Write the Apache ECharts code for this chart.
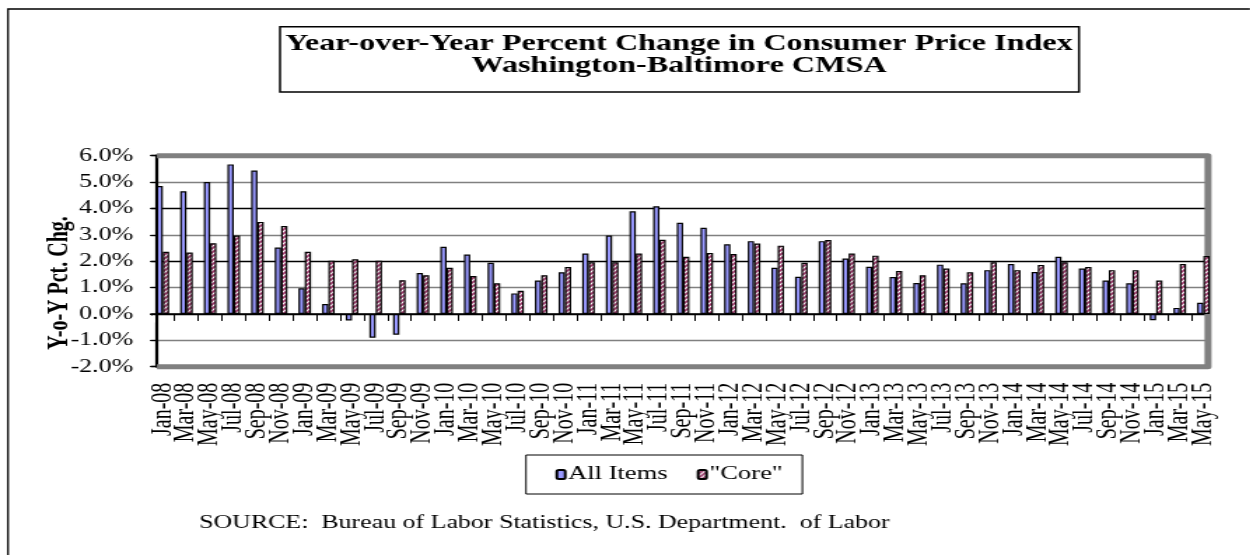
<!DOCTYPE html>
<html>
<head>
<meta charset="utf-8">
<script src="https://cdn.jsdelivr.net/npm/echarts@6/dist/echarts.min.js"></script>
<style>
  html, body { margin: 0; padding: 0; background: #fff; }
  /* the chart is laid out narrow and widened horizontally, giving the wide lettering */
  #chart { width: 892.857px; height: 555px; transform: scaleX(1.4); transform-origin: 0 0; }
</style>
</head>
<body>
<div id="chart"></div>
<script>
// Bi-monthly observations, Jan 2008 - May 2015
const categories = [
  'Jan-08','Mar-08','May-08','Jul-08','Sep-08','Nov-08',
  'Jan-09','Mar-09','May-09','Jul-09','Sep-09','Nov-09',
  'Jan-10','Mar-10','May-10','Jul-10','Sep-10','Nov-10',
  'Jan-11','Mar-11','May-11','Jul-11','Sep-11','Nov-11',
  'Jan-12','Mar-12','May-12','Jul-12','Sep-12','Nov-12',
  'Jan-13','Mar-13','May-13','Jul-13','Sep-13','Nov-13',
  'Jan-14','Mar-14','May-14','Jul-14','Sep-14','Nov-14',
  'Jan-15','Mar-15','May-15'
];

// Year-over-year % change, all items
const allItems = [
  4.85, 4.65, 5.0, 5.67, 5.44, 2.52,
  0.97, 0.38, -0.25, -0.9, -0.79, 1.55,
  2.55, 2.25, 1.94, 0.78, 1.27, 1.58,
  2.29, 2.97, 3.89, 4.08, 3.46, 3.27,
  2.64, 2.76, 1.75, 1.41, 2.76, 2.1,
  1.79, 1.4, 1.17, 1.87, 1.16, 1.66,
  1.89, 1.59, 2.17, 1.72, 1.27, 1.16,
  -0.24, 0.23, 0.42
];

// Year-over-year % change, "core" (less food and energy)
const core = [
  2.36, 2.33, 2.68, 2.97, 3.49, 3.33,
  2.36, 2.02, 2.07, 2.02, 1.28, 1.47,
  1.75, 1.44, 1.16, 0.88, 1.47, 1.78,
  1.96, 1.96, 2.29, 2.81, 2.17, 2.31,
  2.27, 2.67, 2.59, 1.94, 2.8, 2.29,
  2.21, 1.63, 1.47, 1.72, 1.58, 1.96,
  1.66, 1.86, 1.96, 1.78, 1.66, 1.66,
  1.27, 1.89, 2.2
];

const seriesNames = ['All Items', '"Core"'];
const titleLines = ['Year-over-Year Percent Change in Consumer Price Index', 'Washington-Baltimore CMSA'];
const yAxisTitle = 'Y-o-Y Pct. Chg.';
const sourceNote = 'SOURCE:  Bureau of Labor Statistics, U.S. Department.  of Labor';
const yMin = -2, yMax = 6, yStep = 1;

// horizontal widening factor and page-pixel -> chart-unit helper
const S = 1.4;
const px = v => v / S;
const SERIF = '"Liberation Serif", "Times New Roman", serif';

// diagonal hatch fill for the core bars
function hatchPattern() {
  const c = document.createElement('canvas');
  c.width = 4; c.height = 4;
  const g = c.getContext('2d');
  g.fillStyle = '#ffffff';
  g.fillRect(0, 0, 4, 4);
  g.strokeStyle = '#993366';
  g.lineWidth = 1.6;
  g.beginPath();
  g.moveTo(0, 4); g.lineTo(4, 0);
  g.moveTo(-1, 1); g.lineTo(1, -1);
  g.moveTo(3, 5); g.lineTo(5, 3);
  g.stroke();
  return c;
}

// plot frame edges (page pixels)
const plotTop = 155.7, plotBottom = 366.7, plotLeft = 157, plotRight = 1208;

const chart = echarts.init(document.getElementById('chart'));

chart.setOption({
  animation: false,
  backgroundColor: '#ffffff',
  title: {
    text: titleLines.join('\n'),
    left: px(679),
    top: 33,
    textAlign: 'center',
    padding: 0,
    textStyle: {
      fontFamily: SERIF,
      fontWeight: 'bold',
      fontSize: 23,
      lineHeight: 22,
      color: '#000'
    }
  },
  legend: {
    data: seriesNames,
    left: px(526),
    top: 455,
    padding: [10, 14, 10, 21],
    itemGap: px(29),
    itemWidth: 6,
    itemHeight: 9,
    borderColor: '#000',
    borderWidth: 1,
    textStyle: { fontFamily: SERIF, fontSize: 19, color: '#000', padding: [0, 0, 0, -3] }
  },
  grid: {
    left: px(151),
    right: px(35),
    top: plotTop,
    bottom: 555 - plotBottom,
    containLabel: false,
    outerBoundsMode: 'none'
  },
  xAxis: [
    {
      type: 'category',
      data: categories,
      position: 'bottom',
      axisLine: { show: false, onZero: false },
      axisTick: { show: false },
      splitLine: { show: false },
      axisLabel: {
        interval: 0,
        rotate: 90,
        margin: 16,
        fontFamily: SERIF,
        fontSize: 20,
        color: '#000'
      }
    },
    {
      type: 'category',
      data: categories,
      position: 'bottom',
      axisLine: { show: true, onZero: true, lineStyle: { color: '#000', width: 1.5 } },
      axisTick: { show: true, interval: 0, length: 7, inside: false, lineStyle: { color: '#000', width: 1 } },
      axisLabel: { show: false },
      splitLine: { show: false }
    }
  ],
  yAxis: {
    type: 'value',
    position: 'left',
    offset: px(-6),
    min: yMin,
    max: yMax,
    interval: yStep,
    axisLine: { show: true, lineStyle: { color: '#000', width: 2.2 } },
    axisTick: { show: true, length: px(7), lineStyle: { color: '#000', width: 1.2 } },
    axisLabel: {
      margin: 17,
      fontFamily: SERIF,
      fontSize: 18.5,
      color: '#000',
      formatter: v => v.toFixed(1) + '%'
    },
    splitLine: { show: true, lineStyle: { color: ['#000000', '#808080'], width: 1.3 } }
  },
  series: [
    {
      name: seriesNames[0],
      type: 'bar',
      xAxisIndex: 0,
      data: allItems,
      barWidth: px(6.3),
      barGap: '0%',
      itemStyle: { color: '#9999ff', borderColor: '#000', borderWidth: 1.2 }
    },
    {
      name: seriesNames[1],
      type: 'bar',
      xAxisIndex: 0,
      data: core,
      barWidth: px(6.3),
      barGap: '0%',
      itemStyle: {
        color: { image: hatchPattern(), repeat: 'repeat' },
        borderColor: '#000',
        borderWidth: 1.2
      }
    }
  ],
  graphic: [
    // outer frame of the figure (top and left edges)
    {
      type: 'polyline',
      silent: true,
      shape: { points: [[px(8), 555], [px(8), 9], [px(1250), 9]] },
      style: { stroke: '#000', lineWidth: 1.3, fill: null }
    },
    // box around the title
    {
      type: 'rect',
      silent: true,
      shape: { x: px(280), y: 26.7, width: px(799), height: 65.3 },
      style: { fill: null, stroke: '#000', lineWidth: 1.5 }
    },
    // white cover beyond the right edge of the plot frame
    {
      type: 'rect',
      silent: true,
      z: 1,
      shape: { x: px(1211), y: 148, width: px(8), height: 226 },
      style: { fill: '#ffffff' }
    },
    // white cover under the first category boundary tick, left of the value axis
    {
      type: 'rect',
      silent: true,
      z: 1,
      shape: { x: px(146), y: 315.5, width: px(9), height: 7 },
      style: { fill: '#ffffff' }
    },
    // thick grey frame on the top, right and bottom of the plot
    {
      type: 'polyline',
      silent: true,
      z: 1,
      shape: { points: [[px(plotLeft), plotTop], [px(plotRight), plotTop], [px(plotRight), plotBottom], [px(plotLeft), plotBottom]] },
      style: { stroke: '#808080', lineWidth: 5, fill: null, lineJoin: 'round' }
    },
    // value-axis title
    {
      type: 'text',
      silent: true,
      x: px(60),
      y: 283,
      rotation: Math.PI / 2,
      style: {
        text: yAxisTitle,
        font: 'bold 20px ' + SERIF,
        fill: '#000',
        align: 'center',
        verticalAlign: 'middle'
      }
    },
    // source note
    {
      type: 'text',
      silent: true,
      x: px(199),
      y: 523,
      style: {
        text: sourceNote,
        font: '18.5px ' + SERIF,
        fill: '#000',
        align: 'left',
        verticalAlign: 'middle'
      }
    }
  ]
});
</script>
</body>
</html>
